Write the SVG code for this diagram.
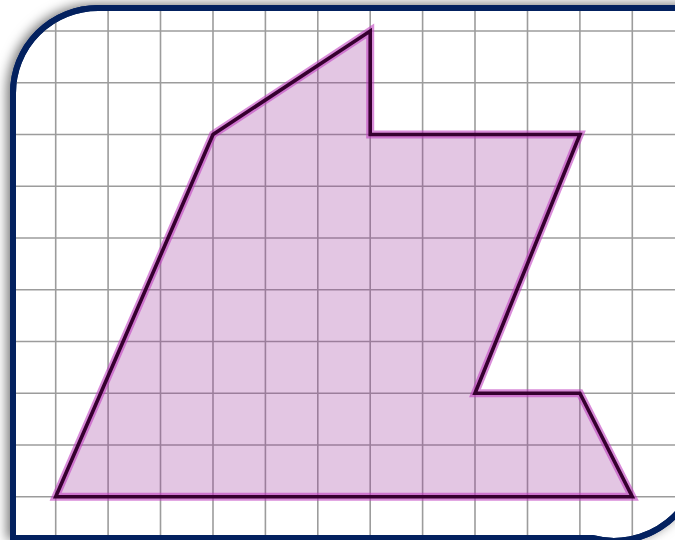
<svg xmlns="http://www.w3.org/2000/svg" width="675" height="540" viewBox="0 0 675 540">
  <defs>
    <filter id="shadow" x="-10%" y="-10%" width="120%" height="120%">
      <feGaussianBlur in="SourceAlpha" stdDeviation="6"/>
      <feOffset dx="-3" dy="-1" result="b"/>
      <feFlood flood-color="#000" flood-opacity="0.55"/>
      <feComposite in2="b" operator="in"/>
      <feMerge><feMergeNode/><feMergeNode in="SourceGraphic"/></feMerge>
    </filter>
    <clipPath id="inner">
      <path d="M98,8 H700 V452 A86,86 0 0 1 592,538 H13 V93 A85,85 0 0 1 98,8 Z"/>
    </clipPath>
    <style>
      .grid line { stroke: #9c9c9c; stroke-width: 1.6; }
      .frame { fill: #ffffff; stroke: #03215f; stroke-width: 6; }
      .fill { fill: #993399; fill-opacity: 0.28; stroke: none; }
      .glow { fill: none; stroke: #c040c0; stroke-opacity: 0.6; stroke-width: 8; stroke-linejoin: miter; }
      .edge { fill: none; stroke: #36002f; stroke-width: 3.6; stroke-linejoin: miter; }
    </style>
  </defs>
  <rect width="675" height="540" fill="#ffffff"/>
  <g id="frame">
    <path class="frame" filter="url(#shadow)" d="M98,8 H700 V452 A86,86 0 0 1 592,538 H13 V93 A85,85 0 0 1 98,8 Z"/>
  </g>
  <g id="grid" class="grid" clip-path="url(#inner)">
    <line x1="55.7" y1="0" x2="55.7" y2="540"/>
    <line x1="108.1" y1="0" x2="108.1" y2="540"/>
    <line x1="160.5" y1="0" x2="160.5" y2="540"/>
    <line x1="213" y1="0" x2="213" y2="540"/>
    <line x1="265.4" y1="0" x2="265.4" y2="540"/>
    <line x1="317.8" y1="0" x2="317.8" y2="540"/>
    <line x1="370.2" y1="0" x2="370.2" y2="540"/>
    <line x1="422.6" y1="0" x2="422.6" y2="540"/>
    <line x1="475" y1="0" x2="475" y2="540"/>
    <line x1="527.5" y1="0" x2="527.5" y2="540"/>
    <line x1="579.9" y1="0" x2="579.9" y2="540"/>
    <line x1="632.3" y1="0" x2="632.3" y2="540"/>
    <line x1="0" y1="31" x2="675" y2="31"/>
    <line x1="0" y1="82.7" x2="675" y2="82.7"/>
    <line x1="0" y1="134.5" x2="675" y2="134.5"/>
    <line x1="0" y1="186.2" x2="675" y2="186.2"/>
    <line x1="0" y1="238" x2="675" y2="238"/>
    <line x1="0" y1="289.7" x2="675" y2="289.7"/>
    <line x1="0" y1="341.5" x2="675" y2="341.5"/>
    <line x1="0" y1="393.2" x2="675" y2="393.2"/>
    <line x1="0" y1="445" x2="675" y2="445"/>
    <line x1="0" y1="496.7" x2="675" y2="496.7"/>
  </g>
  <g id="frame-border">
    <path d="M98,8 H700 V452 A86,86 0 0 1 592,538 H13 V93 A85,85 0 0 1 98,8 Z" fill="none" stroke="#03215f" stroke-width="6"/>
  </g>
  <g id="polygon">
    <polygon class="fill" points="55.7,496.7 213,134.5 370.2,31 370.2,134.5 579.9,134.5 475,393.2 579.9,393.2 632.3,496.7"/>
    <polygon class="glow" points="55.7,496.7 213,134.5 370.2,31 370.2,134.5 579.9,134.5 475,393.2 579.9,393.2 632.3,496.7"/>
    <polygon class="edge" points="55.7,496.7 213,134.5 370.2,31 370.2,134.5 579.9,134.5 475,393.2 579.9,393.2 632.3,496.7"/>
  </g>
</svg>
